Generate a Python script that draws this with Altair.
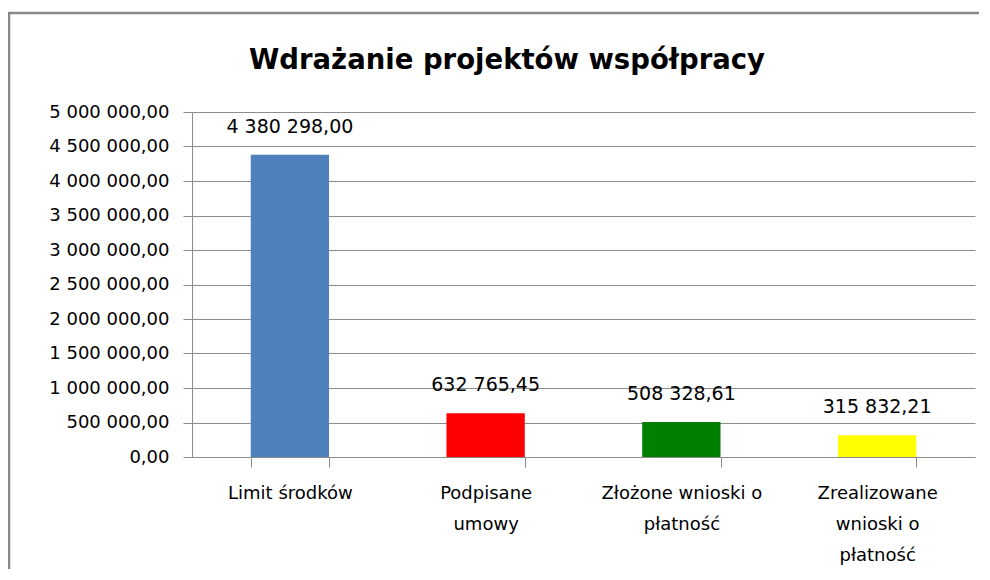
import altair as alt
import pandas as pd

categories = ["Limit środków", "Podpisane\numowy", "Złożone wnioski o\npłatność", "Zrealizowane\nwnioski o\npłatność"]
values = [4380298.00, 632765.45, 508328.61, 315832.21]
colors = ["#4F81BD", "#FF0000", "#008000", "#FFFF00"]
title_text = "Wdrażanie projektów współpracy"
y_ticks = [0, 500000, 1000000, 1500000, 2000000, 2500000, 3000000, 3500000, 4000000, 4500000, 5000000]

df = pd.DataFrame({"cat": categories, "val": values, "color": colors})

W, H = 783, 345
FONT = "DejaVu Sans"
GRAY = "#8c8c8c"

x_axis = alt.Axis(title=None, labelAngle=0, tickBand="extent", grid=False,
                  labelExpr="isValid(datum.value) ? split(datum.value, '\\n') : ''",
                  labelFont=FONT, labelFontSize=18, labelColor="#000",
                  labelLineHeight=31, labelPadding=17, tickSize=10,
                  tickColor=GRAY, domainColor=GRAY, labelBaseline="top")
y_axis = alt.Axis(title=None, values=y_ticks, tickCount=20, format=",.2f", labelOverlap=False,
                  labelFont=FONT, labelFontSize=18, labelColor="#000",
                  tickSize=9, tickColor=GRAY, domainColor=GRAY,
                  gridColor=GRAY, grid=True, labelPadding=14)

x_enc = alt.X("cat:N", sort=categories,
              scale=alt.Scale(paddingInner=0.6, paddingOuter=0.3), axis=x_axis)
y_enc = alt.Y("val:Q", scale=alt.Scale(domain=[0, 5000000], nice=False), axis=y_axis)

base = alt.Chart(df)

bars = base.mark_bar().encode(
    x=x_enc, y=y_enc,
    color=alt.Color("color:N", scale=None),
)

labels = base.mark_text(baseline="middle", dy=-28, font=FONT, fontSize=19, color="#000").encode(
    x=x_enc, y=y_enc,
    text=alt.Text("val:Q", format=",.2f"),
)

title = alt.Chart(pd.DataFrame({"t": [title_text]})).mark_text(
    font=FONT, fontSize=27.5, fontWeight="bold", color="#000", baseline="middle", align="center"
).encode(x=alt.value(315), y=alt.value(-51), text="t:N")

frame_left = alt.Chart(pd.DataFrame({"a": [0]})).mark_rule(color="#888888", strokeWidth=2.5).encode(
    x=alt.value(-183), y=alt.value(-99), y2=alt.value(470))
frame_top = alt.Chart(pd.DataFrame({"a": [0]})).mark_rule(color="#888888", strokeWidth=2.5).encode(
    x=alt.value(-184), x2=alt.value(800), y=alt.value(-99))

chart = alt.layer(bars, labels, title, frame_left, frame_top).properties(
    width=W, height=H,
    autosize=alt.AutoSizeParams(type="none"),
    padding={"left": 184, "top": 104, "right": 4, "bottom": 112},
).configure(
    locale={"number": {"decimal": ",", "thousands": " ", "grouping": [3], "currency": ["", ""]}}
).configure_view(stroke="transparent", strokeWidth=0)

chart.save("out.html", embed_options={"renderer": "svg", "actions": False})
